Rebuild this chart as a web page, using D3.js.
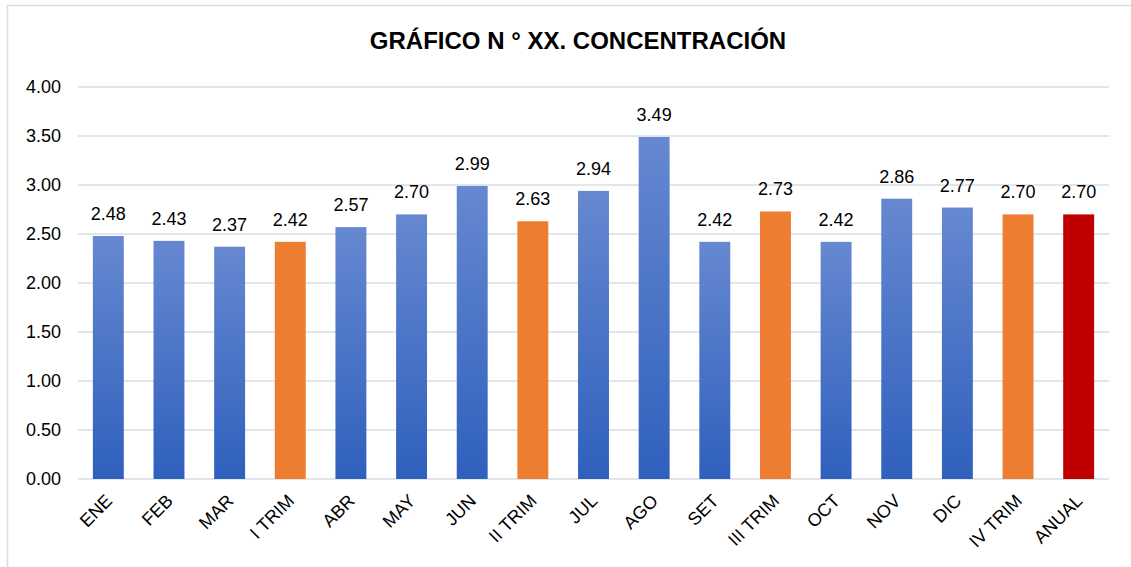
<!DOCTYPE html>
<html>
<head>
<meta charset="utf-8">
<script src="https://cdn.jsdelivr.net/npm/d3@7"></script>
<style>
  body { margin: 0; background: #fff; }
  text { font-family: "Liberation Sans", Arial, sans-serif; fill: #000; }
</style>
</head>
<body>
<div id="chart"></div>
<script>
// categories and values
const categories = ['ENE', 'FEB', 'MAR', 'I TRIM', 'ABR', 'MAY', 'JUN', 'II TRIM', 'JUL', 'AGO', 'SET', 'III TRIM', 'OCT', 'NOV', 'DIC', 'IV TRIM', 'ANUAL'];
const values = [2.48, 2.43, 2.37, 2.42, 2.57, 2.70, 2.99, 2.63, 2.94, 3.49, 2.42, 2.73, 2.42, 2.86, 2.77, 2.70, 2.70];
const kinds = ['m', 'm', 'm', 't', 'm', 'm', 'm', 't', 'm', 'm', 'm', 't', 'm', 'm', 'm', 't', 'a'];
const yTicks = [0, 0.5, 1, 1.5, 2, 2.5, 3, 3.5, 4];

const W = 1131, H = 567;
const margin = {top: 87, right: 22, bottom: 88, left: 78};
const width = W - margin.left - margin.right;
const height = H - margin.top - margin.bottom;

const svg = d3.select('#chart').append('svg')
    .attr('width', W)
    .attr('height', H);

// chart border
svg.append('rect')
    .attr('x', 7.5).attr('y', 5.5)
    .attr('width', 1140).attr('height', 600)
    .attr('fill', 'none')
    .attr('stroke', '#d9dde3')
    .attr('stroke-width', 1.5);

// blue gradient for the monthly bars
const grad = svg.append('defs').append('linearGradient')
    .attr('id', 'blue').attr('x1', 0).attr('y1', 0).attr('x2', 0).attr('y2', 1);
grad.append('stop').attr('offset', '0%').attr('stop-color', '#6688d0');
grad.append('stop').attr('offset', '100%').attr('stop-color', '#2f60bd');

svg.append('text')
    .attr('x', 578).attr('y', 49)
    .attr('text-anchor', 'middle')
    .style('font-size', '24px')
    .style('font-weight', 'bold')
    .text('GRÁFICO N ° XX. CONCENTRACIÓN');

const g = svg.append('g')
    .attr('transform', 'translate(' + margin.left + ',' + margin.top + ')');

const x = d3.scaleBand().domain(categories).range([0, width]).paddingInner(0.49).paddingOuter(0.245);
const y = d3.scaleLinear().domain([0, 4]).range([height, 0]);

// gridlines
g.append('g').selectAll('line')
    .data(yTicks)
    .join('line')
    .attr('x1', 0).attr('x2', width)
    .attr('y1', d => y(d)).attr('y2', d => y(d))
    .attr('stroke', '#d9dde3')
    .attr('stroke-width', 1.5);

// y axis labels
const yAxis = g.append('g')
    .call(d3.axisLeft(y).tickValues(yTicks).tickFormat(d3.format('.2f')).tickSize(0).tickPadding(17));
yAxis.select('.domain').remove();
yAxis.selectAll('text').style('font-size', '18px').attr('fill', '#000');

const colorOf = k => k === 'm' ? 'url(#blue)' : (k === 't' ? '#ed7d31' : '#c00000');

g.selectAll('rect.bar')
    .data(categories)
    .join('rect')
    .attr('class', 'bar')
    .attr('x', d => x(d))
    .attr('width', x.bandwidth())
    .attr('y', (d, i) => y(values[i]))
    .attr('height', (d, i) => height - y(values[i]))
    .attr('fill', (d, i) => colorOf(kinds[i]));

// value labels
g.selectAll('text.val')
    .data(categories)
    .join('text')
    .attr('class', 'val')
    .attr('x', d => x(d) + x.bandwidth() / 2)
    .attr('y', (d, i) => y(values[i]) - 16)
    .attr('text-anchor', 'middle')
    .style('font-size', '18px')
    .text((d, i) => d3.format('.2f')(values[i]));

// x axis labels
const xAxis = g.append('g')
    .attr('transform', 'translate(0,' + height + ')')
    .call(d3.axisBottom(x).tickSize(0).tickPadding(0));
xAxis.select('.domain').remove();
xAxis.selectAll('text')
    .style('font-size', '18px')
    .attr('fill', '#000')
    .attr('text-anchor', 'end')
    .attr('dy', 0)
    .attr('transform', 'translate(5,23) rotate(-45)');
</script>
</body>
</html>
